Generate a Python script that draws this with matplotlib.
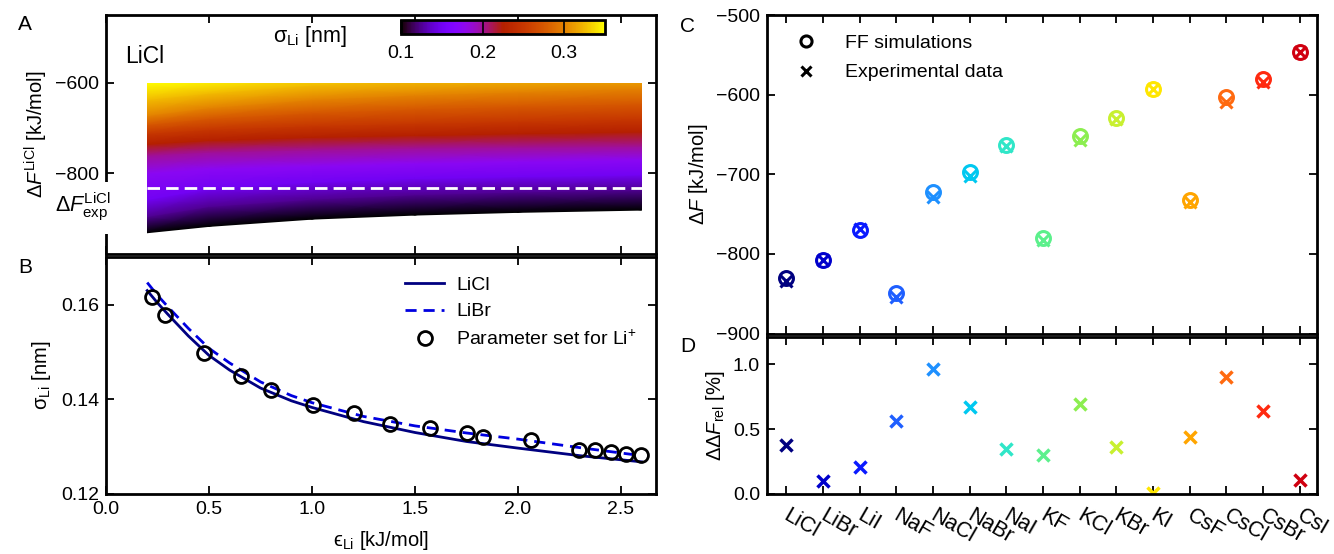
import numpy as np
import matplotlib
matplotlib.use('Agg')
import matplotlib.pyplot as plt
from matplotlib.patches import Rectangle
from matplotlib.lines import Line2D
from matplotlib.transforms import ScaledTranslation

plt.rcParams['font.family'] = ['Liberation Sans', 'DejaVu Sans']
plt.rcParams['mathtext.fontset'] = 'custom'
plt.rcParams['mathtext.rm'] = 'Liberation Sans'
plt.rcParams['mathtext.it'] = 'Liberation Sans:italic'
plt.rcParams['mathtext.bf'] = 'Liberation Sans:bold'

# ---------------- Panel A: scan of Li+ parameters (LiCl) ----------------
eps_grid = [0.2, 0.5, 1.0, 1.5, 2.0, 2.6]
sigma_levels = [0.10, 0.125, 0.15, 0.175, 0.20, 0.225, 0.25, 0.275, 0.30, 0.325, 0.35, 0.40]
dF_eps_0p2 = [-931, -895, -858, -800, -760, -735, -712, -692, -672, -637, -600, -540]
dF_eps_0p5 = [-917, -873, -833, -790, -753, -727, -703, -679, -655, -623, -590, -525]
dF_eps_1p0 = [-901, -857, -819, -784, -748, -720, -695, -666, -637, -605, -572, -505]
dF_eps_1p5 = [-892, -847, -811, -778, -744, -716, -690, -658, -627, -595, -562, -500]
dF_eps_2p0 = [-886, -841, -807, -774, -742, -712, -685, -652, -620, -587, -553, -490]
dF_eps_2p6 = [-881, -836, -803, -770, -740, -708, -680, -646, -612, -579, -545, -480]
dF_cut_top = -600
dF_exp_LiCl = -833

# ---------------- Panel B: sigma vs epsilon ----------------
eps_curve = [0.2, 0.25, 0.3, 0.4, 0.5, 0.6, 0.75, 0.9, 1.0, 1.25, 1.5, 1.75, 2.0, 2.3, 2.6]
sigma_LiCl = [0.1630, 0.1604, 0.1580, 0.1534, 0.1493, 0.1462, 0.1424, 0.1397, 0.1383,
              0.1353, 0.1330, 0.1311, 0.1297, 0.1281, 0.1268]
sigma_LiBr = [0.1647, 0.1620, 0.1596, 0.1550, 0.1508, 0.1477, 0.1437, 0.1408, 0.1393,
              0.1364, 0.1344, 0.1329, 0.1316, 0.1298, 0.1281]
eps_params = [0.223, 0.285, 0.476, 0.656, 0.801, 1.003, 1.203, 1.378, 1.571, 1.752,
              1.828, 2.061, 2.298, 2.373, 2.45, 2.523, 2.598]
sigma_params = [0.1617, 0.1579, 0.1498, 0.1449, 0.1419, 0.1389, 0.1371, 0.1349, 0.1339,
                0.1328, 0.1321, 0.1314, 0.1293, 0.1292, 0.1288, 0.1284, 0.1283]

# ---------------- Panels C & D: lattice energies ----------------
salts = ['LiCl', 'LiBr', 'LiI', 'NaF', 'NaCl', 'NaBr', 'NaI', 'KF', 'KCl', 'KBr', 'KI',
         'CsF', 'CsCl', 'CsBr', 'CsI']
dF_ff = [-830.8, -807.2, -770.6, -849.2, -722.0, -697.3, -662.7, -779.7, -652.5, -628.8,
         -592.9, -731.8, -603.5, -580.3, -546.4]
dF_exp = [-834, -808, -769, -854, -729, -702, -665, -782, -657, -631, -593, -735, -609,
          -584, -547]
ddF_rel = [0.38, 0.10, 0.21, 0.56, 0.96, 0.67, 0.35, 0.30, 0.69, 0.36, 0.01, 0.44, 0.90,
           0.64, 0.11]
salt_colors = ['#000080', '#0000cc', '#0a1aff', '#1f5fff', '#1e90ff', '#00c8f0', '#30e6c8',
               '#5cf08c', '#8cee50', '#c8f030', '#ffe600', '#ffa500', '#ff6a10', '#ff2a10',
               '#d00010']

# ---------------- figure ----------------
W, H = 1334, 554
fig = plt.figure(figsize=(W / 100, H / 100), dpi=100)


def px_axes(l, t, r, b):
    return fig.add_axes([l / W, 1 - b / H, (r - l) / W, (b - t) / H])


TICK_FS = 14
LAB_FS = 14.5


def style(ax):
    ax.tick_params(direction='in', top=True, right=True, length=6, width=1.3,
                   labelsize=TICK_FS, pad=5)
    for s in ax.spines.values():
        s.set_linewidth(2)


axA = px_axes(106, 15, 656, 254)
axB = px_axes(106, 257, 656, 494)
axC = px_axes(767, 15, 1317, 333.5)
axD = px_axes(767, 337, 1317, 494)
for a in (axA, axB, axC, axD):
    style(a)

# ---- Panel A ----
dF_table = np.array([dF_eps_0p2, dF_eps_0p5, dF_eps_1p0, dF_eps_1p5, dF_eps_2p0, dF_eps_2p6])
Xg, Sg = np.meshgrid(eps_grid, sigma_levels, indexing='ij')
mesh = axA.pcolormesh(Xg, dF_table, Sg, shading='gouraud', cmap='gnuplot',
                      vmin=0.1, vmax=0.35, rasterized=True)
clip = Rectangle((eps_grid[0], -2000), eps_grid[-1] - eps_grid[0], 2000 + dF_cut_top,
                 transform=axA.transData)
mesh.set_clip_path(clip)
axA.hlines(dF_exp_LiCl, eps_grid[0], eps_grid[-1], colors='white', linewidth=2,
           linestyles=(0, (4.5, 2.2)))
axA.set_xlim(0, 2.67)
axA.set_ylim(-978, -450)
axA.set_yticks([-600, -800])
axA.set_xticks([0, 0.5, 1.0, 1.5, 2.0, 2.5])
axA.tick_params(labelbottom=False)
axA.set_ylabel('Δ$F^{\\mathrm{LiCl}}$ [kJ/mol]', fontsize=LAB_FS, labelpad=4)
axA.text(0.035, 0.80, 'LiCl', transform=axA.transAxes, fontsize=16.5)
# white patch hiding the left spine behind the experimental label
fig.patches.append(Rectangle((100 / W, 1 - 234 / H), 14 / W, 52 / H, transform=fig.transFigure,
                             facecolor='white', edgecolor='none', zorder=5))
fig.text(55 / W, 1 - 207 / H, 'Δ$F^{\\mathrm{LiCl}}_{\\mathrm{exp}}$', fontsize=15.5,
         va='center', ha='left', zorder=10)

cax = fig.add_axes([401 / W, 1 - 34 / H, 204 / W, 14 / H])
cb = fig.colorbar(mesh, cax=cax, orientation='horizontal', ticks=[0.1, 0.2, 0.3])
cb.outline.set_linewidth(2)
cax.tick_params(direction='in', length=10, width=1.2, labelsize=TICK_FS, pad=8)
cax.set_xticklabels(['0.1', '0.2', '0.3'])
fig.text(273 / W, 1 - 42 / H, 'σ$_{\\mathrm{Li}}$ [nm]', fontsize=15.5, ha='left',
         va='baseline')

# ---- Panel B ----
axB.plot(eps_curve, sigma_LiCl, color='#000080', lw=2, label='LiCl')
axB.plot(eps_curve, sigma_LiBr, color='#0000e0', lw=2, ls=(0, (4, 2.5)), label='LiBr')
axB.plot(eps_params, sigma_params, 'o', mfc='none', mec='black', mew=2, ms=10,
         label='Parameter set for Li$^{+}$')
axB.set_xlim(0, 2.67)
axB.set_ylim(0.12, 0.1701)
axB.set_xticks([0, 0.5, 1.0, 1.5, 2.0, 2.5])
axB.set_xticklabels(['0.0', '0.5', '1.0', '1.5', '2.0', '2.5'])
axB.set_yticks([0.12, 0.14, 0.16])
axB.set_yticklabels(['0.12', '0.14', '0.16'])
axB.set_xlabel('ϵ$_{\\mathrm{Li}}$ [kJ/mol]', fontsize=LAB_FS, labelpad=8)
axB.set_ylabel('σ$_{\\mathrm{Li}}$ [nm]', fontsize=LAB_FS, labelpad=6)
axB.legend(loc='upper right', bbox_to_anchor=(1.0, 1.0), frameon=False, fontsize=14,
           handlelength=2.0, handletextpad=0.6, labelspacing=0.45, borderaxespad=0.6)

# ---- Panel C ----
xpos = np.arange(len(salts))
for i in range(len(salts)):
    axC.plot(xpos[i], dF_ff[i], 'o', mfc='none', mec=salt_colors[i], mew=2.2, ms=10)
    axC.plot(xpos[i], dF_exp[i], 'x', color=salt_colors[i], mew=2.2, ms=8)
axC.set_xlim(-0.53, 14.47)
axC.set_ylim(-900, -500)
axC.set_yticks([-900, -800, -700, -600, -500])
axC.set_xticks(xpos)
axC.tick_params(labelbottom=False)
axC.set_ylabel('Δ$F$ [kJ/mol]', fontsize=LAB_FS, labelpad=4)
handles = [Line2D([], [], ls='none', marker='o', mfc='none', mec='black', mew=2.2, ms=8),
           Line2D([], [], ls='none', marker='x', color='black', mew=2.2, ms=7)]
axC.legend(handles, ['FF simulations', 'Experimental data'], loc='upper left',
           frameon=False, fontsize=14, handletextpad=1.0, labelspacing=0.6,
           borderaxespad=0.6, borderpad=0.4)

# ---- Panel D ----
for i in range(len(salts)):
    axD.plot(xpos[i], ddF_rel[i], 'x', color=salt_colors[i], mew=2.5, ms=9)
axD.set_xlim(-0.53, 14.47)
axD.set_ylim(0, 1.21)
axD.set_yticks([0.0, 0.5, 1.0])
axD.set_yticklabels(['0.0', '0.5', '1.0'])
axD.set_xticks(xpos)
axD.set_xticklabels(salts, rotation=-30, ha='left', va='top', rotation_mode='anchor',
                    fontsize=15.5)
axD.tick_params(axis='x', pad=8)
for lab in axD.get_xticklabels():
    lab.set_transform(lab.get_transform() + ScaledTranslation(3 / 72, 0, fig.dpi_scale_trans))
axD.set_ylabel('ΔΔ$F_{\\mathrm{rel}}$ [%]', fontsize=LAB_FS, labelpad=4)

# panel letters
fig.text(18 / W, 1 - 30 / H, 'A', fontsize=15)
fig.text(18 / W, 1 - 273 / H, 'B', fontsize=15)
fig.text(680 / W, 1 - 32 / H, 'C', fontsize=15)
fig.text(680 / W, 1 - 352 / H, 'D', fontsize=15)

fig.savefig('out.png', dpi=100)
